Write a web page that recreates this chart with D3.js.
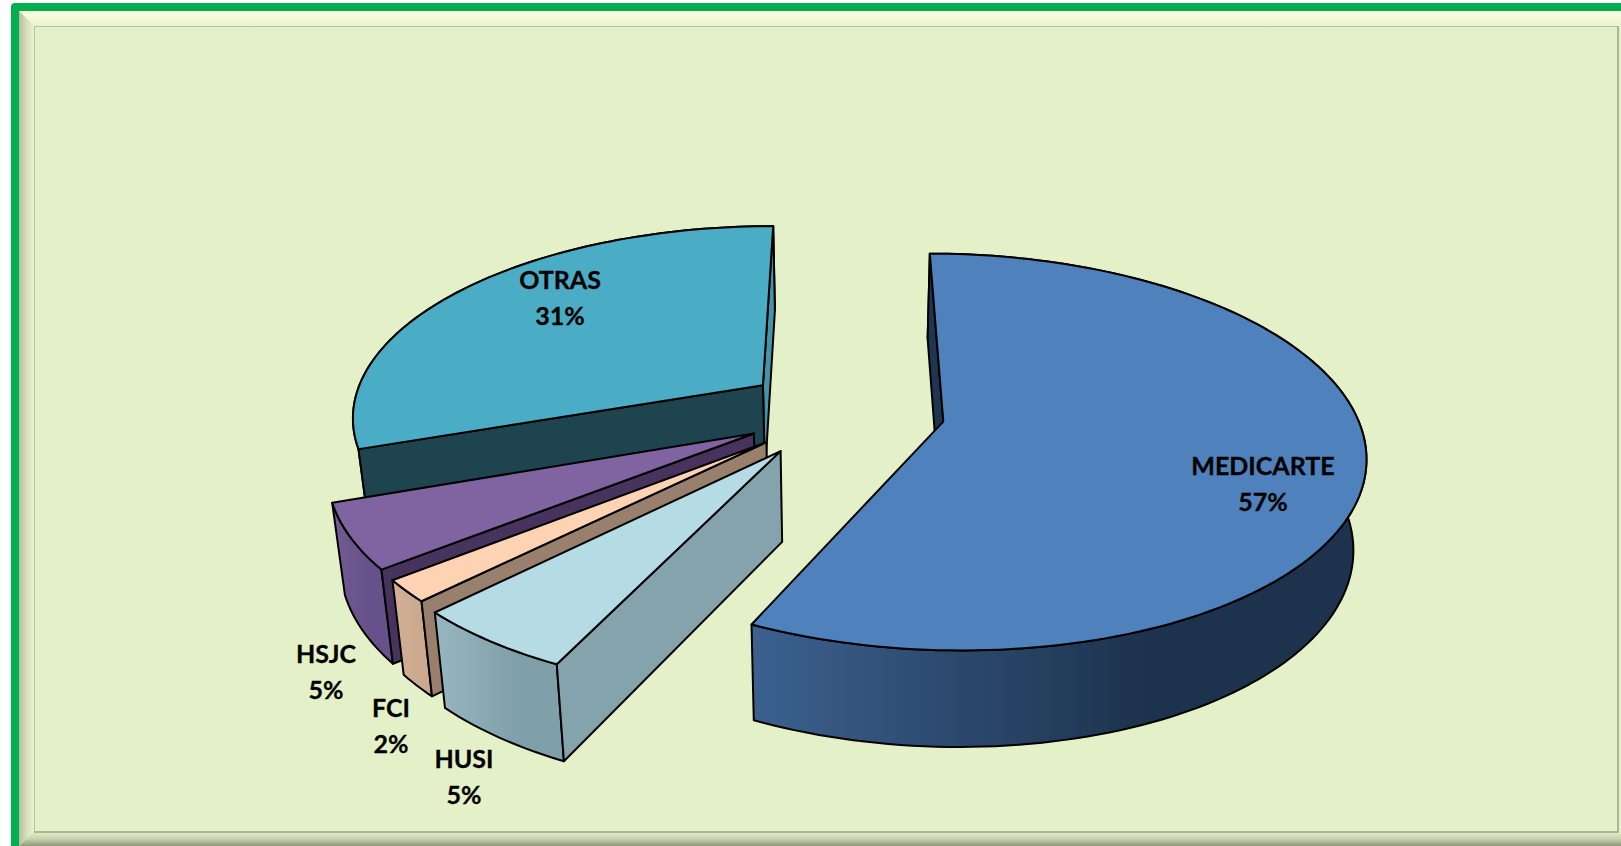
<!DOCTYPE html>
<html>
<head>
<meta charset="utf-8">
<script src="https://cdn.jsdelivr.net/npm/d3@7"></script>
<style>
html, body { margin: 0; padding: 0; background: #fff; overflow: hidden; }
svg { display: block; }
text { font-family: Lato, "Open Sans", sans-serif; font-weight: 700; fill: #000; stroke: #000; stroke-width: 0.3px; }
</style>
</head>
<body>
<div id="chart"></div>
<script>
// data (slice angles are a bit finer than the rounded labels)
const categories = ["MEDICARTE", "HUSI", "FCI", "HSJC", "OTRAS"];
const values = [57.1, 5.4, 1.8, 5.3, 30.4];
const labels = ["57%", "5%", "2%", "5%", "31%"];

const width = 1621, height = 846;

// look of each slice, same order as categories
const topColors = ["#4f81bd", "#b5dbe5", "#fdd3b4", "#8064a2", "#4bacc6"];
const wallColors = [["#3c618f", "#1c324d"], ["#97b6c0", "#7f9fa9"], ["#d3b198", "#cba98f"], ["#715b90", "#67518a"], ["#4a9ab0", "#4a9ab0"]];
const startFace = ["#1f3653", "#84a3ac", "#99806c", "#47345e", "#1e444f"];
const endFace = ["#1f3653", "#84a3ac", "#99806c", "#47345e", "#4694a9"];
const explode = [0.25, 0.25, 0.24, 0.24, 0.24];
const labelAt = [[1263, 466], [464, 759], [391, 708], [326, 654], [560, 280]];

// the disc lies on a plane seen in perspective
const view = { cx: 842, cy: 411, rx: 412, ry: 190.5, p: 0.152, bottomY: 500.6, bottomRy: 196, bottomX: 0.975 };

const project = (u, v, bottom) => {
    const w = 1 - view.p * v;
    if (bottom) {
        return [view.cx + view.bottomX * view.rx * u / w, view.bottomY + view.bottomRy * v / w];
    }
    return [view.cx + view.rx * u / w, view.cy + view.ry * v / w];
};

const svg = d3.select("#chart").append("svg")
    .attr("width", width)
    .attr("height", height);

const defs = svg.append("defs");

const addGradient = (id, x1, y1, x2, y2, stops) => {
    const g = defs.append("linearGradient")
        .attr("id", id)
        .attr("x1", x1).attr("y1", y1).attr("x2", x2).attr("y2", y2);
    stops.forEach((s) => {
        g.append("stop").attr("offset", s[0]).attr("stop-color", s[1]);
    });
};

addGradient("bevelTop", 0, 0, 0, 1, [[0, "#ffffe2"], [1, "#e9f3cf"]]);
addGradient("bevelLeft", 0, 0, 1, 0, [[0, "#b4bba0"], [0.5, "#d6dfbd"], [1, "#e8f2cd"]]);
addGradient("bevelBottom", 0, 0, 0, 1, [[0, "#e4efc8"], [0.5, "#c6d0ad"], [1, "#8f9a7e"]]);

// frame
svg.append("rect").attr("width", width).attr("height", height).attr("fill", "#fff");
svg.append("path")
    .attr("d", `M11,846V7Q11,3 15,3H${width}V11H19V846Z`)
    .attr("fill", "#00b050");
svg.append("rect").attr("x", 19).attr("y", 11).attr("width", width - 19).attr("height", height - 11).attr("fill", "#e4f1c8");
svg.append("path").attr("d", `M19,11H${width}V26H34Z`).attr("fill", "url(#bevelTop)");
svg.append("path").attr("d", "M19,11L34,26V832L19,846Z").attr("fill", "url(#bevelLeft)");
svg.append("path").attr("d", `M19,846L34,832H${width}V846Z`).attr("fill", "url(#bevelBottom)");
svg.append("path").attr("d", "M34.5,832V26.5H1618").attr("fill", "none").attr("stroke", "#b3bca3").attr("stroke-opacity", 0.9).attr("stroke-width", 1);
svg.append("path").attr("d", "M34,832H1618V26").attr("fill", "none").attr("stroke", "#98a288").attr("stroke-width", 1.5);

// pie
const pie = d3.pie().sort(null).startAngle(0).endAngle(2 * Math.PI);
const arcs = pie(values);
const line = d3.line();

const polar = (a, r) => [r * Math.sin(a), -r * Math.cos(a)];

const slices = arcs.map((d, i) => {
    const mid = (d.startAngle + d.endAngle) / 2;
    const o = polar(mid, explode[i]);
    const steps = Math.max(6, Math.ceil((d.endAngle - d.startAngle) * 40));
    const rim = d3.range(steps + 1).map((k) => {
        const p = polar(d.startAngle + (d.endAngle - d.startAngle) * k / steps, 1);
        return [o[0] + p[0], o[1] + p[1]];
    });
    return { i: i, o: o, rim: rim };
});

slices.forEach((s) => {
    addGradient(`wall${s.i}`, 0, 0, 1, 0, [[0, wallColors[s.i][0]], [0.65, wallColors[s.i][1]], [1, wallColors[s.i][1]]]);
});

// painter's order: back slice first, big front slice last
const order = [4, 3, 2, 1, 0];

const chart = svg.append("g")
    .attr("stroke", "#000")
    .attr("stroke-linejoin", "round");

order.forEach((i) => {
    const s = slices[i];
    const first = s.rim[0], last = s.rim[s.rim.length - 1];
    const quad = (e) => [
        project(s.o[0], s.o[1]),
        project(e[0], e[1]),
        project(e[0], e[1], true),
        project(s.o[0], s.o[1], true)
    ];

    // outer wall
    const wall = s.rim.map((p) => project(p[0], p[1]))
        .concat(s.rim.slice().reverse().map((p) => project(p[0], p[1], true)));
    chart.append("path").attr("d", line(wall) + "Z").attr("fill", `url(#wall${i})`).attr("stroke-width", 2);

    // cut faces, only the ones turned towards the viewer
    if (d3.polygonArea(quad(last)) < 0) {
        chart.append("path").attr("d", line(quad(last)) + "Z").attr("fill", endFace[i]).attr("stroke-width", 2);
    }
    if (d3.polygonArea(quad(first)) > 0) {
        chart.append("path").attr("d", line(quad(first)) + "Z").attr("fill", startFace[i]).attr("stroke-width", 2);
    }

    // top
    const top = [project(s.o[0], s.o[1])].concat(s.rim.map((p) => project(p[0], p[1])));
    chart.append("path").attr("d", line(top) + "Z").attr("fill", topColors[i]).attr("stroke-width", 2);
});

// data labels
const labelGroup = svg.append("g")
    .attr("text-anchor", "middle")
    .style("font-size", "25px");

categories.forEach((c, i) => {
    labelGroup.append("text")
        .attr("x", labelAt[i][0])
        .attr("y", labelAt[i][1] + 9)
        .text(c);
    labelGroup.append("text")
        .attr("x", labelAt[i][0])
        .attr("y", labelAt[i][1] + 45)
        .text(labels[i]);
});
</script>
</body>
</html>
